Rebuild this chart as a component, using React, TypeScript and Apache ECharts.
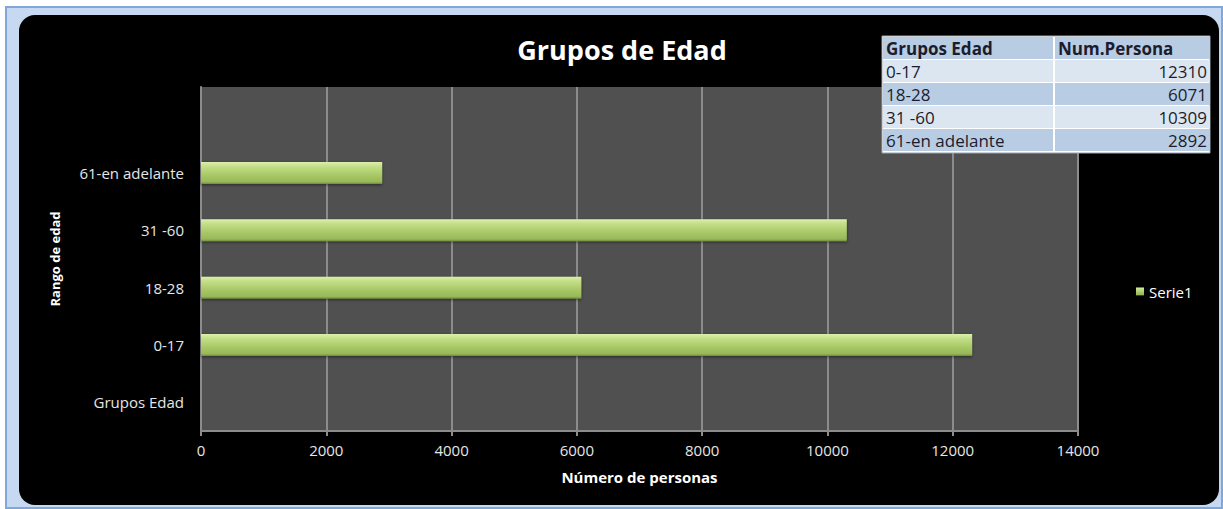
import React, { useEffect, useRef } from "react";
import * as echarts from "echarts";

const categories = ["Grupos Edad", "0-17", "18-28", "31 -60", "61-en adelante", ""];
const values: (number | null)[] = [null, 12310, 6071, 10309, 2892, null];
const tableHeader = ["Grupos Edad", "Num.Persona"];
const tableGroups = ["0-17", "18-28", "31 -60", "61-en adelante"];
const tableCounts = [12310, 6071, 10309, 2892];
const xTicks = { min: 0, max: 14000, interval: 2000 };

const FONT = "'Open Sans', 'Noto Sans', sans-serif";

function buildTable() {
  const x0 = 883;
  const y0 = 37;
  const w1 = 170;
  const w2 = 155;
  const rh = 23;
  const els: any[] = [];
  const rows = [tableHeader, ...tableGroups.map((g, i) => [g, String(tableCounts[i])])];
  els.push({
    type: "rect",
    shape: { x: x0 - 1, y: y0 - 1, width: w1 + w2 + 3, height: rh * rows.length + 2 },
    style: { fill: "#ffffff", stroke: "#9aa3ad", lineWidth: 1 },
    z: 100,
  });
  rows.forEach((r, i) => {
    const fill = i % 2 === 0 ? "#b8cce4" : "#dce6f1";
    const y = y0 + i * rh;
    els.push({
      type: "rect",
      shape: { x: x0, y: y, width: w1, height: rh - 1 },
      style: { fill },
      z: 101,
    });
    els.push({
      type: "rect",
      shape: { x: x0 + w1 + 2, y: y, width: w2, height: rh - 1 },
      style: { fill },
      z: 101,
    });
    els.push({
      type: "text",
      x: x0 + 3,
      y: y + rh / 2,
      style: {
        text: r[0],
        fill: "#1c1c2c",
        font: `${i === 0 ? "bold " : ""}17px ${FONT}`,
        textVerticalAlign: "middle",
        textAlign: "left",
      },
      z: 102,
    });
    els.push({
      type: "text",
      x: i === 0 ? x0 + w1 + 5 : x0 + w1 + 2 + w2 - 3,
      y: y + rh / 2,
      style: {
        text: r[1],
        fill: "#1c1c2c",
        font: `${i === 0 ? "bold " : ""}17px ${FONT}`,
        textVerticalAlign: "middle",
        textAlign: i === 0 ? "left" : "right",
      },
      z: 102,
    });
  });
  return els;
}

export default function App() {
  const ref = useRef<HTMLDivElement>(null);
  useEffect(() => {
    if (!ref.current) return;
    const chart = echarts.init(ref.current, null, { renderer: "svg" });
    chart.setOption({
      animation: false,
      backgroundColor: "#ffffff",
      title: {
        text: "Grupos de Edad",
        left: 617,
        top: 31,
        textAlign: "center",
        textStyle: { color: "#ffffff", fontSize: 27, fontWeight: "bold", fontFamily: FONT },
      },
      legend: {
        data: ["Serie1"],
        orient: "vertical",
        left: 1131,
        top: 279,
        itemWidth: 8,
        itemHeight: 8,
        itemGap: 4,
        icon: "rect",
        textStyle: { color: "#ffffff", fontSize: 15, fontFamily: FONT },
      },
      grid: { left: 201, top: 87, right: 145, bottom: 78, containLabel: false,
        show: true, backgroundColor: "#505050", borderWidth: 0 },
      xAxis: {
        type: "value",
        min: xTicks.min,
        max: xTicks.max,
        interval: xTicks.interval,
        name: "Número de personas",
        nameLocation: "middle",
        nameGap: 38,
        nameTextStyle: { color: "#ffffff", fontSize: 15, fontWeight: "bold", fontFamily: FONT },
        axisLine: { show: true, lineStyle: { color: "#8c8c8c", width: 2 } },
        axisTick: { show: true, length: 5, lineStyle: { color: "#8c8c8c", width: 2 } },
        axisLabel: {
          color: "#e6e6e6",
          fontSize: 15,
          margin: 11,
          fontFamily: FONT,
          formatter: (v: number) => String(v),
        },
        splitLine: { show: true, lineStyle: { color: "#8c8c8c", width: 2 } },
      },
      yAxis: {
        type: "category",
        data: categories,
        name: "Rango de edad",
        nameLocation: "middle",
        nameGap: 140,
        nameRotate: 90,
        nameTextStyle: { color: "#ffffff", fontSize: 13, fontWeight: "bold", fontFamily: FONT },
        axisLine: { show: true, lineStyle: { color: "#8c8c8c", width: 2 } },
        axisTick: { show: false },
        axisLabel: { color: "#e6e6e6", fontSize: 15, margin: 17, fontFamily: FONT },
        splitLine: { show: false },
      },
      series: [
        {
          name: "Serie1",
          type: "bar",
          data: values,
          barWidth: 22,
          itemStyle: {
            color: new echarts.graphic.LinearGradient(0, 0, 0, 1, [
              { offset: 0, color: "#dcefad" },
              { offset: 0.2, color: "#c4df88" },
              { offset: 0.6, color: "#a8c867" },
              { offset: 0.9, color: "#98b85a" },
              { offset: 1, color: "#6f8a3c" },
            ]),
            shadowColor: "rgba(0,0,0,0.5)",
            shadowBlur: 3,
            shadowOffsetY: 1,
          },
        },
      ],
      graphic: [
        {
          type: "rect",
          shape: { x: 6, y: 7, width: 1216, height: 501 },
          style: { fill: "#c6d9f0", stroke: "#7fa7dc", lineWidth: 2 },
          z: -10,
          silent: true,
        },
        {
          type: "rect",
          shape: { x: 19, y: 15, width: 1200, height: 490, r: 16 },
          style: { fill: "#000000" },
          z: -9,
          silent: true,
        },
        ...buildTable(),
      ],
    });
    return () => chart.dispose();
  }, []);
  return (
    <div
      ref={ref}
      style={{ position: "absolute", left: 0, top: 0, width: 1223, height: 509 }}
    />
  );
}
